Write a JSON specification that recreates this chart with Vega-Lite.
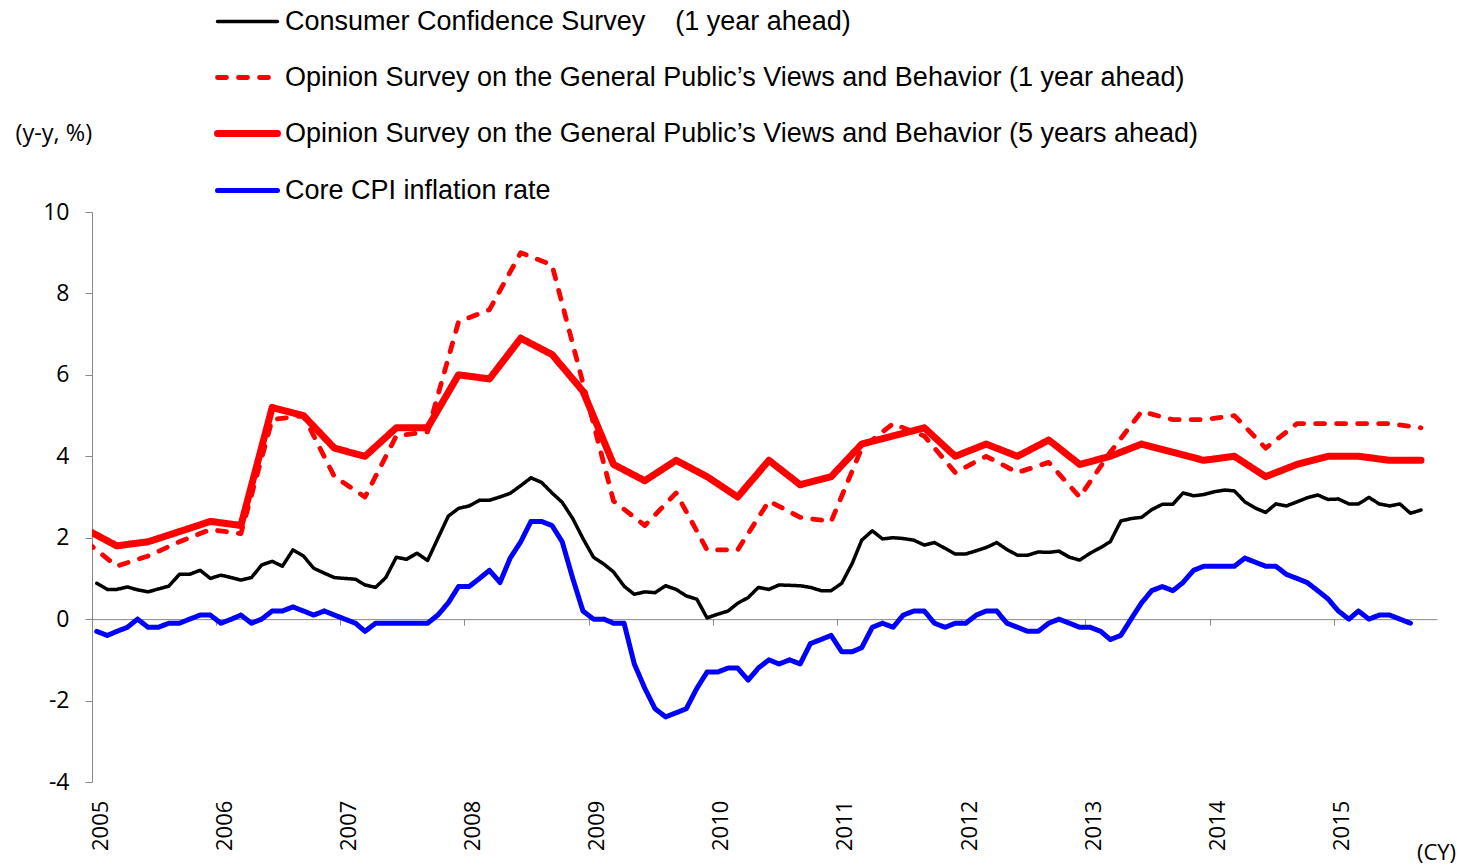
{
  "$schema": "https://vega.github.io/schema/vega-lite/v6.json",
  "width": 1345,
  "height": 570,
  "autosize": {"type": "none"},
  "padding": {"left": 92, "top": 212, "right": 23, "bottom": 84},
  "background": "white",
  "config": {"view": {"stroke": null}, "font": "Open Sans"},
  "data": {"values": [
    {"s":"cc","d":"2005-01-15","v":0.88},{"s":"cc","d":"2005-02-15","v":0.73},{"s":"cc","d":"2005-03-15","v":0.73},{"s":"cc","d":"2005-04-15","v":0.79},{"s":"cc","d":"2005-05-15","v":0.72},{"s":"cc","d":"2005-06-15","v":0.67},{"s":"cc","d":"2005-07-15","v":0.74},{"s":"cc","d":"2005-08-15","v":0.81},{"s":"cc","d":"2005-09-15","v":1.1},{"s":"cc","d":"2005-10-15","v":1.1},{"s":"cc","d":"2005-11-15","v":1.2},{"s":"cc","d":"2005-12-15","v":1.0},
    {"s":"cc","d":"2006-01-15","v":1.08},{"s":"cc","d":"2006-02-15","v":1.02},{"s":"cc","d":"2006-03-15","v":0.96},{"s":"cc","d":"2006-04-15","v":1.02},{"s":"cc","d":"2006-05-15","v":1.33},{"s":"cc","d":"2006-06-15","v":1.42},{"s":"cc","d":"2006-07-15","v":1.3},{"s":"cc","d":"2006-08-15","v":1.7},{"s":"cc","d":"2006-09-15","v":1.55},{"s":"cc","d":"2006-10-15","v":1.25},{"s":"cc","d":"2006-11-15","v":1.13},{"s":"cc","d":"2006-12-15","v":1.02},
    {"s":"cc","d":"2007-01-15","v":1.0},{"s":"cc","d":"2007-02-15","v":0.98},{"s":"cc","d":"2007-03-15","v":0.84},{"s":"cc","d":"2007-04-15","v":0.78},{"s":"cc","d":"2007-05-15","v":1.02},{"s":"cc","d":"2007-06-15","v":1.52},{"s":"cc","d":"2007-07-15","v":1.47},{"s":"cc","d":"2007-08-15","v":1.62},{"s":"cc","d":"2007-09-15","v":1.44},{"s":"cc","d":"2007-10-15","v":1.98},{"s":"cc","d":"2007-11-15","v":2.53},{"s":"cc","d":"2007-12-15","v":2.72},
    {"s":"cc","d":"2008-01-15","v":2.78},{"s":"cc","d":"2008-02-15","v":2.92},{"s":"cc","d":"2008-03-15","v":2.92},{"s":"cc","d":"2008-04-15","v":3.0},{"s":"cc","d":"2008-05-15","v":3.09},{"s":"cc","d":"2008-06-15","v":3.28},{"s":"cc","d":"2008-07-15","v":3.47},{"s":"cc","d":"2008-08-15","v":3.36},{"s":"cc","d":"2008-09-15","v":3.1},{"s":"cc","d":"2008-10-15","v":2.87},{"s":"cc","d":"2008-11-15","v":2.47},{"s":"cc","d":"2008-12-15","v":1.98},
    {"s":"cc","d":"2009-01-15","v":1.52},{"s":"cc","d":"2009-02-15","v":1.35},{"s":"cc","d":"2009-03-15","v":1.16},{"s":"cc","d":"2009-04-15","v":0.81},{"s":"cc","d":"2009-05-15","v":0.61},{"s":"cc","d":"2009-06-15","v":0.67},{"s":"cc","d":"2009-07-15","v":0.65},{"s":"cc","d":"2009-08-15","v":0.82},{"s":"cc","d":"2009-09-15","v":0.73},{"s":"cc","d":"2009-10-15","v":0.57},{"s":"cc","d":"2009-11-15","v":0.49},{"s":"cc","d":"2009-12-15","v":0.03},
    {"s":"cc","d":"2010-01-15","v":0.12},{"s":"cc","d":"2010-02-15","v":0.2},{"s":"cc","d":"2010-03-15","v":0.39},{"s":"cc","d":"2010-04-15","v":0.53},{"s":"cc","d":"2010-05-15","v":0.78},{"s":"cc","d":"2010-06-15","v":0.73},{"s":"cc","d":"2010-07-15","v":0.84},{"s":"cc","d":"2010-08-15","v":0.83},{"s":"cc","d":"2010-09-15","v":0.82},{"s":"cc","d":"2010-10-15","v":0.78},{"s":"cc","d":"2010-11-15","v":0.7},{"s":"cc","d":"2010-12-15","v":0.7},
    {"s":"cc","d":"2011-01-15","v":0.88},{"s":"cc","d":"2011-02-15","v":1.37},{"s":"cc","d":"2011-03-15","v":1.94},{"s":"cc","d":"2011-04-15","v":2.17},{"s":"cc","d":"2011-05-15","v":1.97},{"s":"cc","d":"2011-06-15","v":2.0},{"s":"cc","d":"2011-07-15","v":1.98},{"s":"cc","d":"2011-08-15","v":1.94},{"s":"cc","d":"2011-09-15","v":1.82},{"s":"cc","d":"2011-10-15","v":1.88},{"s":"cc","d":"2011-11-15","v":1.74},{"s":"cc","d":"2011-12-15","v":1.6},
    {"s":"cc","d":"2012-01-15","v":1.6},{"s":"cc","d":"2012-02-15","v":1.68},{"s":"cc","d":"2012-03-15","v":1.76},{"s":"cc","d":"2012-04-15","v":1.88},{"s":"cc","d":"2012-05-15","v":1.71},{"s":"cc","d":"2012-06-15","v":1.57},{"s":"cc","d":"2012-07-15","v":1.57},{"s":"cc","d":"2012-08-15","v":1.65},{"s":"cc","d":"2012-09-15","v":1.64},{"s":"cc","d":"2012-10-15","v":1.67},{"s":"cc","d":"2012-11-15","v":1.52},{"s":"cc","d":"2012-12-15","v":1.45},
    {"s":"cc","d":"2013-01-15","v":1.62},{"s":"cc","d":"2013-02-15","v":1.76},{"s":"cc","d":"2013-03-15","v":1.9},{"s":"cc","d":"2013-04-15","v":2.41},{"s":"cc","d":"2013-05-15","v":2.47},{"s":"cc","d":"2013-06-15","v":2.5},{"s":"cc","d":"2013-07-15","v":2.69},{"s":"cc","d":"2013-08-15","v":2.82},{"s":"cc","d":"2013-09-15","v":2.82},{"s":"cc","d":"2013-10-15","v":3.1},{"s":"cc","d":"2013-11-15","v":3.03},{"s":"cc","d":"2013-12-15","v":3.06},
    {"s":"cc","d":"2014-01-15","v":3.13},{"s":"cc","d":"2014-02-15","v":3.17},{"s":"cc","d":"2014-03-15","v":3.15},{"s":"cc","d":"2014-04-15","v":2.88},{"s":"cc","d":"2014-05-15","v":2.73},{"s":"cc","d":"2014-06-15","v":2.62},{"s":"cc","d":"2014-07-15","v":2.83},{"s":"cc","d":"2014-08-15","v":2.78},{"s":"cc","d":"2014-09-15","v":2.88},{"s":"cc","d":"2014-10-15","v":2.98},{"s":"cc","d":"2014-11-15","v":3.05},{"s":"cc","d":"2014-12-15","v":2.94},
    {"s":"cc","d":"2015-01-15","v":2.95},{"s":"cc","d":"2015-02-15","v":2.83},{"s":"cc","d":"2015-03-15","v":2.83},{"s":"cc","d":"2015-04-15","v":2.99},{"s":"cc","d":"2015-05-15","v":2.83},{"s":"cc","d":"2015-06-15","v":2.78},{"s":"cc","d":"2015-07-15","v":2.83},{"s":"cc","d":"2015-08-15","v":2.6},{"s":"cc","d":"2015-09-15","v":2.68},

    {"s":"os1","d":"2004-12-15","v":1.9},{"s":"os1","d":"2005-03-15","v":1.3},{"s":"os1","d":"2005-06-15","v":1.55},{"s":"os1","d":"2005-09-15","v":1.9},{"s":"os1","d":"2005-12-15","v":2.2},
    {"s":"os1","d":"2006-03-15","v":2.1},{"s":"os1","d":"2006-06-15","v":4.9},{"s":"os1","d":"2006-09-15","v":5.0},{"s":"os1","d":"2006-12-15","v":3.5},
    {"s":"os1","d":"2007-03-15","v":3.0},{"s":"os1","d":"2007-06-15","v":4.5},{"s":"os1","d":"2007-09-15","v":4.6},{"s":"os1","d":"2007-12-15","v":7.3},
    {"s":"os1","d":"2008-03-15","v":7.6},{"s":"os1","d":"2008-06-15","v":9.0},{"s":"os1","d":"2008-09-15","v":8.7},{"s":"os1","d":"2008-12-15","v":5.8},
    {"s":"os1","d":"2009-03-15","v":2.9},{"s":"os1","d":"2009-06-15","v":2.3},{"s":"os1","d":"2009-09-15","v":3.1},{"s":"os1","d":"2009-12-15","v":1.7},
    {"s":"os1","d":"2010-03-15","v":1.7},{"s":"os1","d":"2010-06-15","v":2.9},{"s":"os1","d":"2010-09-15","v":2.5},{"s":"os1","d":"2010-12-15","v":2.4},
    {"s":"os1","d":"2011-03-15","v":4.2},{"s":"os1","d":"2011-06-15","v":4.8},{"s":"os1","d":"2011-09-15","v":4.5},{"s":"os1","d":"2011-12-15","v":3.6},
    {"s":"os1","d":"2012-03-15","v":4.0},{"s":"os1","d":"2012-06-15","v":3.6},{"s":"os1","d":"2012-09-15","v":3.85},{"s":"os1","d":"2012-12-15","v":3.0},
    {"s":"os1","d":"2013-03-15","v":4.1},{"s":"os1","d":"2013-06-15","v":5.1},{"s":"os1","d":"2013-09-15","v":4.9},{"s":"os1","d":"2013-12-15","v":4.9},
    {"s":"os1","d":"2014-03-15","v":5.0},{"s":"os1","d":"2014-06-15","v":4.2},{"s":"os1","d":"2014-09-15","v":4.8},{"s":"os1","d":"2014-12-15","v":4.8},
    {"s":"os1","d":"2015-03-15","v":4.8},{"s":"os1","d":"2015-06-15","v":4.8},{"s":"os1","d":"2015-09-15","v":4.7},

    {"s":"os5","d":"2004-12-15","v":2.2},{"s":"os5","d":"2005-03-15","v":1.8},{"s":"os5","d":"2005-06-15","v":1.9},{"s":"os5","d":"2005-09-15","v":2.15},{"s":"os5","d":"2005-12-15","v":2.4},
    {"s":"os5","d":"2006-03-15","v":2.3},{"s":"os5","d":"2006-06-15","v":5.2},{"s":"os5","d":"2006-09-15","v":5.0},{"s":"os5","d":"2006-12-15","v":4.2},
    {"s":"os5","d":"2007-03-15","v":4.0},{"s":"os5","d":"2007-06-15","v":4.7},{"s":"os5","d":"2007-09-15","v":4.7},{"s":"os5","d":"2007-12-15","v":6.0},
    {"s":"os5","d":"2008-03-15","v":5.9},{"s":"os5","d":"2008-06-15","v":6.9},{"s":"os5","d":"2008-09-15","v":6.5},{"s":"os5","d":"2008-12-15","v":5.6},
    {"s":"os5","d":"2009-03-15","v":3.8},{"s":"os5","d":"2009-06-15","v":3.4},{"s":"os5","d":"2009-09-15","v":3.9},{"s":"os5","d":"2009-12-15","v":3.5},
    {"s":"os5","d":"2010-03-15","v":3.0},{"s":"os5","d":"2010-06-15","v":3.9},{"s":"os5","d":"2010-09-15","v":3.3},{"s":"os5","d":"2010-12-15","v":3.5},
    {"s":"os5","d":"2011-03-15","v":4.3},{"s":"os5","d":"2011-06-15","v":4.5},{"s":"os5","d":"2011-09-15","v":4.7},{"s":"os5","d":"2011-12-15","v":4.0},
    {"s":"os5","d":"2012-03-15","v":4.3},{"s":"os5","d":"2012-06-15","v":4.0},{"s":"os5","d":"2012-09-15","v":4.4},{"s":"os5","d":"2012-12-15","v":3.8},
    {"s":"os5","d":"2013-03-15","v":4.0},{"s":"os5","d":"2013-06-15","v":4.3},{"s":"os5","d":"2013-09-15","v":4.1},{"s":"os5","d":"2013-12-15","v":3.9},
    {"s":"os5","d":"2014-03-15","v":4.0},{"s":"os5","d":"2014-06-15","v":3.5},{"s":"os5","d":"2014-09-15","v":3.8},{"s":"os5","d":"2014-12-15","v":4.0},
    {"s":"os5","d":"2015-03-15","v":4.0},{"s":"os5","d":"2015-06-15","v":3.9},{"s":"os5","d":"2015-09-15","v":3.9},

    {"s":"cpi","d":"2005-01-15","v":-0.3},{"s":"cpi","d":"2005-02-15","v":-0.4},{"s":"cpi","d":"2005-03-15","v":-0.3},{"s":"cpi","d":"2005-04-15","v":-0.2},{"s":"cpi","d":"2005-05-15","v":0.0},{"s":"cpi","d":"2005-06-15","v":-0.2},{"s":"cpi","d":"2005-07-15","v":-0.2},{"s":"cpi","d":"2005-08-15","v":-0.1},{"s":"cpi","d":"2005-09-15","v":-0.1},{"s":"cpi","d":"2005-10-15","v":0.0},{"s":"cpi","d":"2005-11-15","v":0.1},{"s":"cpi","d":"2005-12-15","v":0.1},
    {"s":"cpi","d":"2006-01-15","v":-0.1},{"s":"cpi","d":"2006-02-15","v":0.0},{"s":"cpi","d":"2006-03-15","v":0.1},{"s":"cpi","d":"2006-04-15","v":-0.1},{"s":"cpi","d":"2006-05-15","v":0.0},{"s":"cpi","d":"2006-06-15","v":0.2},{"s":"cpi","d":"2006-07-15","v":0.2},{"s":"cpi","d":"2006-08-15","v":0.3},{"s":"cpi","d":"2006-09-15","v":0.2},{"s":"cpi","d":"2006-10-15","v":0.1},{"s":"cpi","d":"2006-11-15","v":0.2},{"s":"cpi","d":"2006-12-15","v":0.1},
    {"s":"cpi","d":"2007-01-15","v":0.0},{"s":"cpi","d":"2007-02-15","v":-0.1},{"s":"cpi","d":"2007-03-15","v":-0.3},{"s":"cpi","d":"2007-04-15","v":-0.1},{"s":"cpi","d":"2007-05-15","v":-0.1},{"s":"cpi","d":"2007-06-15","v":-0.1},{"s":"cpi","d":"2007-07-15","v":-0.1},{"s":"cpi","d":"2007-08-15","v":-0.1},{"s":"cpi","d":"2007-09-15","v":-0.1},{"s":"cpi","d":"2007-10-15","v":0.1},{"s":"cpi","d":"2007-11-15","v":0.4},{"s":"cpi","d":"2007-12-15","v":0.8},
    {"s":"cpi","d":"2008-01-15","v":0.8},{"s":"cpi","d":"2008-02-15","v":1.0},{"s":"cpi","d":"2008-03-15","v":1.2},{"s":"cpi","d":"2008-04-15","v":0.9},{"s":"cpi","d":"2008-05-15","v":1.5},{"s":"cpi","d":"2008-06-15","v":1.9},{"s":"cpi","d":"2008-07-15","v":2.4},{"s":"cpi","d":"2008-08-15","v":2.4},{"s":"cpi","d":"2008-09-15","v":2.3},{"s":"cpi","d":"2008-10-15","v":1.9},{"s":"cpi","d":"2008-11-15","v":1.0},{"s":"cpi","d":"2008-12-15","v":0.2},
    {"s":"cpi","d":"2009-01-15","v":0.0},{"s":"cpi","d":"2009-02-15","v":0.0},{"s":"cpi","d":"2009-03-15","v":-0.1},{"s":"cpi","d":"2009-04-15","v":-0.1},{"s":"cpi","d":"2009-05-15","v":-1.1},{"s":"cpi","d":"2009-06-15","v":-1.7},{"s":"cpi","d":"2009-07-15","v":-2.2},{"s":"cpi","d":"2009-08-15","v":-2.4},{"s":"cpi","d":"2009-09-15","v":-2.3},{"s":"cpi","d":"2009-10-15","v":-2.2},{"s":"cpi","d":"2009-11-15","v":-1.7},{"s":"cpi","d":"2009-12-15","v":-1.3},
    {"s":"cpi","d":"2010-01-15","v":-1.3},{"s":"cpi","d":"2010-02-15","v":-1.2},{"s":"cpi","d":"2010-03-15","v":-1.2},{"s":"cpi","d":"2010-04-15","v":-1.5},{"s":"cpi","d":"2010-05-15","v":-1.2},{"s":"cpi","d":"2010-06-15","v":-1.0},{"s":"cpi","d":"2010-07-15","v":-1.1},{"s":"cpi","d":"2010-08-15","v":-1.0},{"s":"cpi","d":"2010-09-15","v":-1.1},{"s":"cpi","d":"2010-10-15","v":-0.6},{"s":"cpi","d":"2010-11-15","v":-0.5},{"s":"cpi","d":"2010-12-15","v":-0.4},
    {"s":"cpi","d":"2011-01-15","v":-0.8},{"s":"cpi","d":"2011-02-15","v":-0.8},{"s":"cpi","d":"2011-03-15","v":-0.7},{"s":"cpi","d":"2011-04-15","v":-0.2},{"s":"cpi","d":"2011-05-15","v":-0.1},{"s":"cpi","d":"2011-06-15","v":-0.2},{"s":"cpi","d":"2011-07-15","v":0.1},{"s":"cpi","d":"2011-08-15","v":0.2},{"s":"cpi","d":"2011-09-15","v":0.2},{"s":"cpi","d":"2011-10-15","v":-0.1},{"s":"cpi","d":"2011-11-15","v":-0.2},{"s":"cpi","d":"2011-12-15","v":-0.1},
    {"s":"cpi","d":"2012-01-15","v":-0.1},{"s":"cpi","d":"2012-02-15","v":0.1},{"s":"cpi","d":"2012-03-15","v":0.2},{"s":"cpi","d":"2012-04-15","v":0.2},{"s":"cpi","d":"2012-05-15","v":-0.1},{"s":"cpi","d":"2012-06-15","v":-0.2},{"s":"cpi","d":"2012-07-15","v":-0.3},{"s":"cpi","d":"2012-08-15","v":-0.3},{"s":"cpi","d":"2012-09-15","v":-0.1},{"s":"cpi","d":"2012-10-15","v":0.0},{"s":"cpi","d":"2012-11-15","v":-0.1},{"s":"cpi","d":"2012-12-15","v":-0.2},
    {"s":"cpi","d":"2013-01-15","v":-0.2},{"s":"cpi","d":"2013-02-15","v":-0.3},{"s":"cpi","d":"2013-03-15","v":-0.5},{"s":"cpi","d":"2013-04-15","v":-0.4},{"s":"cpi","d":"2013-05-15","v":0.0},{"s":"cpi","d":"2013-06-15","v":0.4},{"s":"cpi","d":"2013-07-15","v":0.7},{"s":"cpi","d":"2013-08-15","v":0.8},{"s":"cpi","d":"2013-09-15","v":0.7},{"s":"cpi","d":"2013-10-15","v":0.9},{"s":"cpi","d":"2013-11-15","v":1.2},{"s":"cpi","d":"2013-12-15","v":1.3},
    {"s":"cpi","d":"2014-01-15","v":1.3},{"s":"cpi","d":"2014-02-15","v":1.3},{"s":"cpi","d":"2014-03-15","v":1.3},{"s":"cpi","d":"2014-04-15","v":1.5},{"s":"cpi","d":"2014-05-15","v":1.4},{"s":"cpi","d":"2014-06-15","v":1.3},{"s":"cpi","d":"2014-07-15","v":1.3},{"s":"cpi","d":"2014-08-15","v":1.1},{"s":"cpi","d":"2014-09-15","v":1.0},{"s":"cpi","d":"2014-10-15","v":0.9},{"s":"cpi","d":"2014-11-15","v":0.7},{"s":"cpi","d":"2014-12-15","v":0.5},
    {"s":"cpi","d":"2015-01-15","v":0.2},{"s":"cpi","d":"2015-02-15","v":0.0},{"s":"cpi","d":"2015-03-15","v":0.2},{"s":"cpi","d":"2015-04-15","v":0.0},{"s":"cpi","d":"2015-05-15","v":0.1},{"s":"cpi","d":"2015-06-15","v":0.1},{"s":"cpi","d":"2015-07-15","v":0.0},{"s":"cpi","d":"2015-08-15","v":-0.1}
  ]},
  "mark": {"type": "line", "clip": true, "strokeJoin": "round", "strokeCap": "round"},
  "encoding": {
    "x": {
      "field": "d", "type": "temporal",
      "scale": {"type": "utc", "domain": [{"year": 2005, "month": 1, "date": 1, "utc": true}, {"year": 2015, "month": 11, "date": 1, "utc": true}]},
      "axis": {
        "values": [
          {"year": 2005, "month": 1, "date": 1, "utc": true},
          {"year": 2006, "month": 1, "date": 1, "utc": true},
          {"year": 2007, "month": 1, "date": 1, "utc": true},
          {"year": 2008, "month": 1, "date": 1, "utc": true},
          {"year": 2009, "month": 1, "date": 1, "utc": true},
          {"year": 2010, "month": 1, "date": 1, "utc": true},
          {"year": 2011, "month": 1, "date": 1, "utc": true},
          {"year": 2012, "month": 1, "date": 1, "utc": true},
          {"year": 2013, "month": 1, "date": 1, "utc": true},
          {"year": 2014, "month": 1, "date": 1, "utc": true},
          {"year": 2015, "month": 1, "date": 1, "utc": true}
        ],
        "format": "%Y", "formatType": "utc",
        "offset": -162.86,
        "grid": false,
        "domainColor": "#888888", "domainWidth": 1,
        "tickColor": "#888888", "tickSize": 6, "tickWidth": 1,
        "labelAngle": -90, "labelAlign": "right", "labelBaseline": "middle",
        "labelPadding": 175, "labelOffset": 8,
        "labelFont": "Open Sans", "labelFontSize": 22, "labelColor": "#000000",
        "labelFlush": false, "labelOverlap": false, "labelBound": false,
        "title": "(CY)", "titleX": 1344, "titleY": 233, "titleAlign": "center", "titleBaseline": "middle",
        "titleFont": "Open Sans", "titleFontSize": 22, "titleFontWeight": "normal", "titleColor": "#000000"
      }
    },
    "y": {
      "field": "v", "type": "quantitative",
      "scale": {"domain": [-4, 10], "nice": false, "zero": false},
      "axis": {
        "values": [-4, -2, 0, 2, 4, 6, 8, 10],
        "labelExpr": "toString(datum.value)",
        "grid": false,
        "domainColor": "#888888", "domainWidth": 1,
        "tickColor": "#888888", "tickSize": 7, "tickWidth": 1,
        "labelPadding": 16,
        "labelFont": "Open Sans", "labelFontSize": 23, "labelColor": "#000000",
        "labelFlush": false, "labelOverlap": false,
        "title": "(y-y, %)", "titleAngle": 0, "titleX": -77, "titleY": -79, "titleAlign": "left", "titleBaseline": "middle",
        "titleFont": "Open Sans", "titleFontSize": 23.5, "titleFontWeight": "normal", "titleColor": "#000000"
      }
    },
    "color": {
      "field": "s", "type": "nominal",
      "scale": {"domain": ["cc", "os1", "os5", "cpi"], "range": ["#000000", "#FF0000", "#FF0000", "#0000FF"]},
      "legend": {
        "title": null, "orient": "none", "legendX": 142, "legendY": -204, "direction": "vertical",
        "symbolType": "M-3.75,0L3.75,0", "symbolSize": 256,
        "labelFont": "Liberation Sans", "labelFontSize": 27, "labelColor": "#000000", "labelOffset": 24, "labelLimit": 1300,
        "rowPadding": 28, "padding": 0,
        "labelExpr": "datum.value == 'cc' ? 'Consumer Confidence Survey\u00a0\u00a0\u00a0\u00a0(1 year ahead)' : datum.value == 'os1' ? 'Opinion Survey on the General Public\u2019s Views and Behavior (1 year ahead)' : datum.value == 'os5' ? 'Opinion Survey on the General Public\u2019s Views and Behavior (5 years ahead)' : 'Core CPI inflation rate'",
        "encode": {"symbols": {"update": {"strokeCap": {"value": "round"}}}}
      }
    },
    "strokeDash": {
      "field": "s", "type": "nominal",
      "scale": {"domain": ["cc", "os1", "os5", "cpi"], "range": [[1, 0], [9, 12], [1, 0], [1, 0]]},
      "legend": {
        "title": null, "orient": "none", "legendX": 142, "legendY": -204, "direction": "vertical",
        "symbolType": "M-3.75,0L3.75,0", "symbolSize": 256,
        "labelFont": "Liberation Sans", "labelFontSize": 27, "labelColor": "#000000", "labelOffset": 24, "labelLimit": 1300,
        "rowPadding": 28, "padding": 0,
        "labelExpr": "datum.value == 'cc' ? 'Consumer Confidence Survey\u00a0\u00a0\u00a0\u00a0(1 year ahead)' : datum.value == 'os1' ? 'Opinion Survey on the General Public\u2019s Views and Behavior (1 year ahead)' : datum.value == 'os5' ? 'Opinion Survey on the General Public\u2019s Views and Behavior (5 years ahead)' : 'Core CPI inflation rate'",
        "encode": {"symbols": {"update": {"strokeCap": {"value": "round"}}}}
      }
    },
    "strokeWidth": {
      "field": "s", "type": "nominal",
      "scale": {"type": "ordinal", "domain": ["cc", "os1", "os5", "cpi"], "range": [3.5, 4.8, 7, 5]},
      "legend": {
        "title": null, "orient": "none", "legendX": 142, "legendY": -204, "direction": "vertical",
        "symbolType": "M-3.75,0L3.75,0", "symbolSize": 256,
        "labelFont": "Liberation Sans", "labelFontSize": 27, "labelColor": "#000000", "labelOffset": 24, "labelLimit": 1300,
        "rowPadding": 28, "padding": 0,
        "labelExpr": "datum.value == 'cc' ? 'Consumer Confidence Survey\u00a0\u00a0\u00a0\u00a0(1 year ahead)' : datum.value == 'os1' ? 'Opinion Survey on the General Public\u2019s Views and Behavior (1 year ahead)' : datum.value == 'os5' ? 'Opinion Survey on the General Public\u2019s Views and Behavior (5 years ahead)' : 'Core CPI inflation rate'",
        "encode": {"symbols": {"update": {"strokeCap": {"value": "round"}}}}
      }
    }
  }
}
